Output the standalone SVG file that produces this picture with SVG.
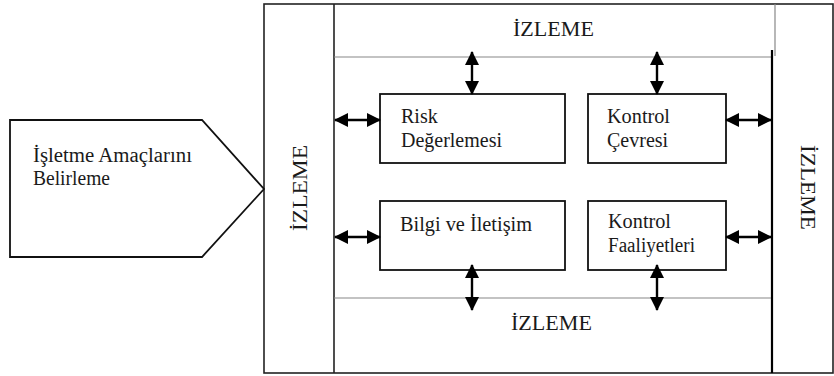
<svg xmlns="http://www.w3.org/2000/svg" width="834" height="376" viewBox="0 0 834 376">
<style>
text{font-family:"Liberation Serif","Times New Roman",serif;fill:#1a1a1a;font-size:20px}
.box{fill:#fff;stroke:#111;stroke-width:1.8}
.frame{fill:none;stroke:#222;stroke-width:1.6}
.thin{fill:none;stroke:#888;stroke-width:1.2}
.thick{fill:none;stroke:#000;stroke-width:2.2}
.arr{fill:none;stroke:#000;stroke-width:2.4;marker-start:url(#ah);marker-end:url(#ah)}
</style>
<defs>
<marker id="ah" markerUnits="userSpaceOnUse" markerWidth="14" markerHeight="14" viewBox="0 0 14 14" refX="13" refY="7" orient="auto-start-reverse">
<path d="M0,0 L14,7 L0,14 Z" fill="#000"/>
</marker>
</defs>
<rect x="0" y="0" width="834" height="376" fill="#fff"/>
<g id="frame">
<rect class="frame" x="264" y="4" width="569" height="369"/>
<line class="frame" x1="334" y1="4" x2="334" y2="373"/>
<line class="thin" x1="334" y1="57" x2="772" y2="57"/>
<line class="thin" x1="775" y1="4" x2="775" y2="56"/>
<line class="thick" x1="772" y1="50" x2="772" y2="373"/>
<line class="thin" x1="334" y1="298" x2="771" y2="298"/>
</g>
<g id="izleme-top"><text x="513" y="36" textLength="81" lengthAdjust="spacingAndGlyphs">İZLEME</text></g>
<g id="izleme-bottom"><text x="511" y="330" textLength="81" lengthAdjust="spacingAndGlyphs">İZLEME</text></g>
<g id="izleme-left"><text transform="translate(307,231) rotate(-90)" x="0" y="0" textLength="86" lengthAdjust="spacingAndGlyphs">İZLEME</text></g>
<g id="izleme-right"><text transform="translate(801,145) rotate(90)" x="0" y="0" textLength="85" lengthAdjust="spacingAndGlyphs">İZLEME</text></g>
<g id="amaclar">
<path class="box" d="M10,120 L202,120 L264,189 L202,257 L10,257 Z"/>
<text x="33" y="162" textLength="159" lengthAdjust="spacingAndGlyphs">İşletme Amaçlarını</text>
<text x="33" y="185" textLength="77" lengthAdjust="spacingAndGlyphs">Belirleme</text>
</g>
<g id="risk">
<rect class="box" x="380" y="94" width="185" height="69"/>
<text x="401" y="123">Risk</text>
<text x="401" y="147" textLength="101" lengthAdjust="spacingAndGlyphs">Değerlemesi</text>
</g>
<g id="kontrol-cevresi">
<rect class="box" x="588" y="94" width="138" height="69"/>
<text x="607" y="123" textLength="63" lengthAdjust="spacingAndGlyphs">Kontrol</text>
<text x="607" y="147">Çevresi</text>
</g>
<g id="bilgi">
<rect class="box" x="380" y="201" width="185" height="69"/>
<text x="400" y="231" textLength="132" lengthAdjust="spacingAndGlyphs">Bilgi ve İletişim</text>
</g>
<g id="kontrol-faaliyetleri">
<rect class="box" x="588" y="201" width="138" height="69"/>
<text x="608" y="228" textLength="63" lengthAdjust="spacingAndGlyphs">Kontrol</text>
<text x="608" y="252" textLength="87" lengthAdjust="spacingAndGlyphs">Faaliyetleri</text>
</g>
<g id="connectors">
<line class="arr" x1="472" y1="52" x2="472" y2="94"/>
<line class="arr" x1="657" y1="52" x2="657" y2="94"/>
<line class="arr" x1="472" y1="265" x2="472" y2="310"/>
<line class="arr" x1="657" y1="265" x2="657" y2="310"/>
<line class="arr" x1="335" y1="120" x2="380" y2="120"/>
<line class="arr" x1="335" y1="237" x2="380" y2="237"/>
<line class="arr" x1="726" y1="120" x2="771" y2="120"/>
<line class="arr" x1="726" y1="237" x2="771" y2="237"/>
</g>
</svg>
